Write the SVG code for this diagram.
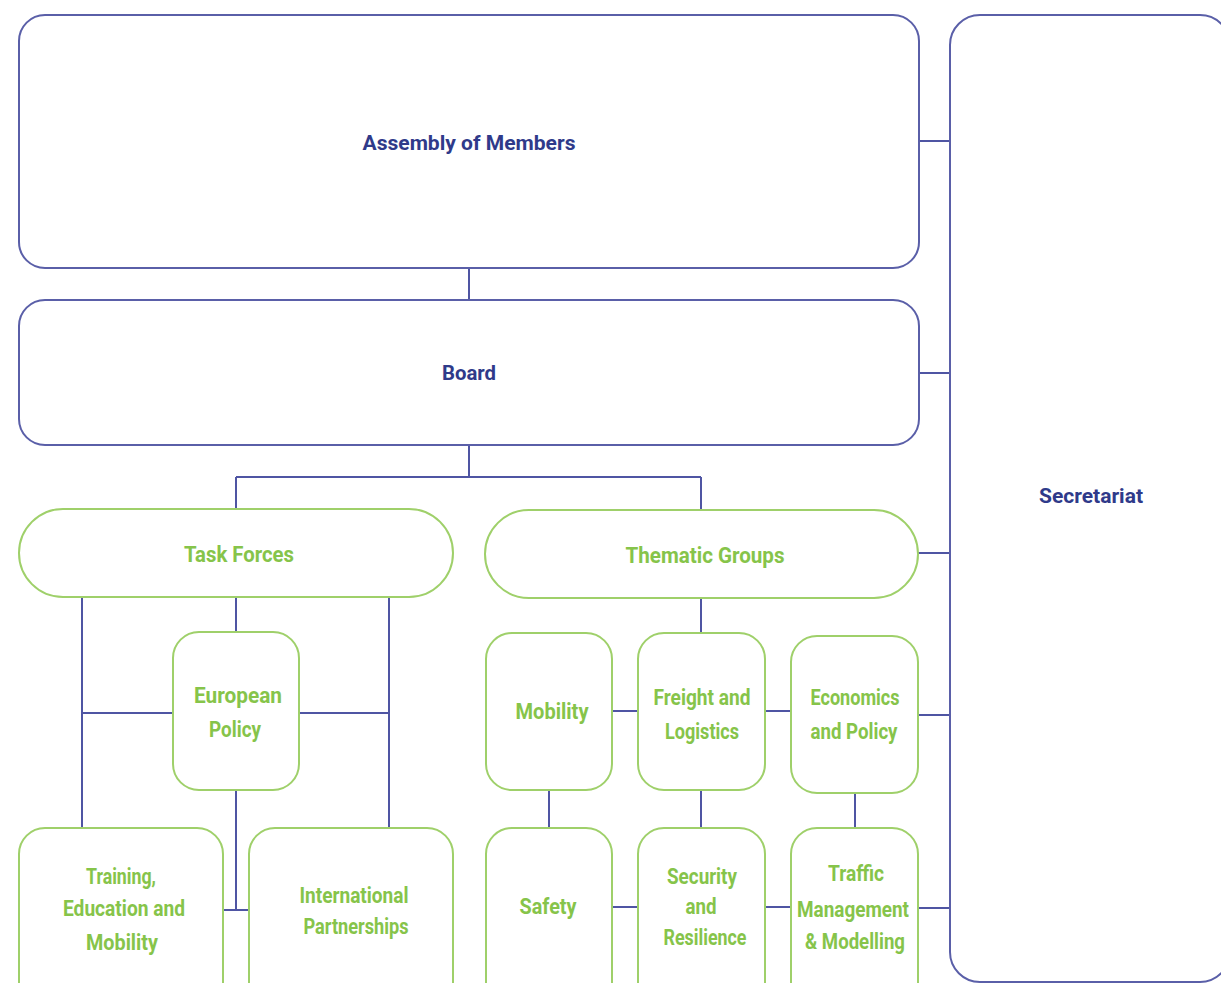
<svg xmlns="http://www.w3.org/2000/svg" width="1221" height="983" viewBox="0 0 1221 983">
<style>
.b{fill:#fff;stroke:#5a5fa8;stroke-width:2}
.g{fill:#fff;stroke:#9fd06a;stroke-width:2}
.c{fill:none;stroke:#4f55a3;stroke-width:2}
.tb{font-family:Roboto,"Noto Sans",sans-serif;font-weight:700;font-size:21px;fill:#2f3a8a;text-anchor:middle}
.tg{font-family:Roboto,"Noto Sans",sans-serif;font-weight:700;font-size:22px;fill:#86c44a;text-anchor:middle}
</style>
<rect width="1221" height="983" fill="#fff"/>
<g id="connectors">
<path class="c" d="M469 268V300"/>
<path class="c" d="M469 445V477M236 477H701M236 477V509M701 477V510"/>
<path class="c" d="M919 141H950M919 373H950M918 553H950M918 715H950M918 908H950"/>
<path class="c" d="M236 597V632M82 597V828M389 597V828M82 713H173M299 713H389M236 790V910M223 910H249"/>
<path class="c" d="M701 598V633M612 711H638M765 711H791M549 790V828M701 790V828M855 793V828M612 907H638M765 907H791"/>
</g>
<g id="assembly"><rect class="b" x="19" y="15" width="900" height="253" rx="26"/><text class="tb" x="469" y="150" textLength="213" lengthAdjust="spacingAndGlyphs">Assembly of Members</text></g>
<g id="board"><rect class="b" x="19" y="300" width="900" height="145" rx="26"/><text class="tb" x="469" y="380" textLength="54" lengthAdjust="spacingAndGlyphs">Board</text></g>
<g id="secretariat"><rect class="b" x="950" y="15" width="280" height="967" rx="30"/><text class="tb" x="1091" y="503" textLength="104" lengthAdjust="spacingAndGlyphs">Secretariat</text></g>
<g id="taskforces"><rect class="g" x="19" y="509" width="434" height="88" rx="44"/><text class="tg" x="239" y="562" textLength="110" lengthAdjust="spacingAndGlyphs">Task Forces</text></g>
<g id="thematic"><rect class="g" x="485" y="510" width="433" height="88" rx="44"/><text class="tg" x="705" y="563" textLength="159" lengthAdjust="spacingAndGlyphs">Thematic Groups</text></g>
<g id="europeanpolicy"><rect class="g" x="173" y="632" width="126" height="158" rx="26"/><text class="tg" x="238" y="703" textLength="88" lengthAdjust="spacingAndGlyphs">European</text><text class="tg" x="235" y="737" textLength="52" lengthAdjust="spacingAndGlyphs">Policy</text></g>
<g id="training"><rect class="g" x="19" y="828" width="204" height="190" rx="26"/><text class="tg" x="121" y="884" textLength="70" lengthAdjust="spacingAndGlyphs">Training,</text><text class="tg" x="124" y="916" textLength="122" lengthAdjust="spacingAndGlyphs">Education and</text><text class="tg" x="122" y="950" textLength="72" lengthAdjust="spacingAndGlyphs">Mobility</text></g>
<g id="international"><rect class="g" x="249" y="828" width="204" height="190" rx="26"/><text class="tg" x="354" y="903" textLength="109" lengthAdjust="spacingAndGlyphs">International</text><text class="tg" x="356" y="934" textLength="105" lengthAdjust="spacingAndGlyphs">Partnerships</text></g>
<g id="mobility"><rect class="g" x="486" y="633" width="126" height="157" rx="26"/><text class="tg" x="552" y="719" textLength="73" lengthAdjust="spacingAndGlyphs">Mobility</text></g>
<g id="freight"><rect class="g" x="638" y="633" width="127" height="157" rx="26"/><text class="tg" x="702" y="705" textLength="97" lengthAdjust="spacingAndGlyphs">Freight and</text><text class="tg" x="702" y="739" textLength="74" lengthAdjust="spacingAndGlyphs">Logistics</text></g>
<g id="economics"><rect class="g" x="791" y="636" width="127" height="157" rx="26"/><text class="tg" x="855" y="705" textLength="89" lengthAdjust="spacingAndGlyphs">Economics</text><text class="tg" x="854" y="739" textLength="87" lengthAdjust="spacingAndGlyphs">and Policy</text></g>
<g id="safety"><rect class="g" x="486" y="828" width="126" height="190" rx="26"/><text class="tg" x="548" y="914" textLength="57" lengthAdjust="spacingAndGlyphs">Safety</text></g>
<g id="security"><rect class="g" x="638" y="828" width="127" height="190" rx="26"/><text class="tg" x="702" y="884" textLength="70" lengthAdjust="spacingAndGlyphs">Security</text><text class="tg" x="701" y="914" textLength="31" lengthAdjust="spacingAndGlyphs">and</text><text class="tg" x="705" y="945" textLength="83" lengthAdjust="spacingAndGlyphs">Resilience</text></g>
<g id="traffic"><rect class="g" x="791" y="828" width="127" height="190" rx="26"/><text class="tg" x="856" y="881" textLength="56" lengthAdjust="spacingAndGlyphs">Traffic</text><text class="tg" x="853" y="917" textLength="112" lengthAdjust="spacingAndGlyphs">Management</text><text class="tg" x="855" y="949" textLength="100" lengthAdjust="spacingAndGlyphs">&amp; Modelling</text></g>
</svg>
